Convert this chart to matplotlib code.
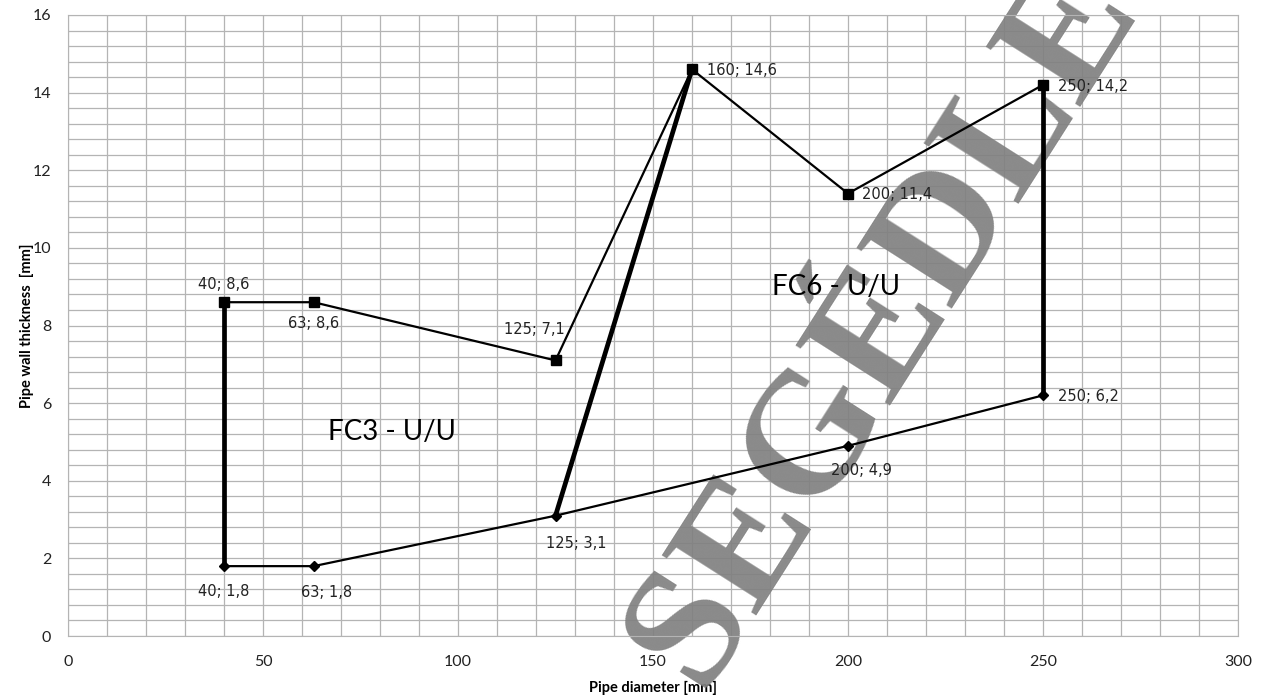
import numpy as np
import matplotlib
matplotlib.use("Agg")
from matplotlib import pyplot as plt
from matplotlib.ticker import MultipleLocator

# upper boundary (square markers)
upper_x = [40, 63, 125, 160, 200, 250]
upper_y = [8.6, 8.6, 7.1, 14.6, 11.4, 14.2]
# lower boundary (diamond markers)
lower_x = [40, 63, 125, 200, 250]
lower_y = [1.8, 1.8, 3.1, 4.9, 6.2]
# thick separators between the zones
sep_x = [[40, 40], [125, 160], [250, 250]]
sep_y = [[1.8, 8.6], [3.1, 14.6], [6.2, 14.2]]

upper_labels = ["40; 8,6", "63; 8,6", "125; 7,1", "160; 14,6", "200; 11,4", "250; 14,2"]
lower_labels = ["40; 1,8", "63; 1,8", "125; 3,1", "200; 4,9", "250; 6,2"]
zone_names = ["FC3 - U/U", "FC6 - U/U"]
zone_x = [83, 197]
zone_y = [5.26, 9.0]

# label offsets in points and alignment
upper_off = [((0, 13), "center"), ((0, -15), "center"), ((7, 22), "right"),
             ((11, -1), "left"), ((10, -1), "left"), ((11, -1), "left")]
lower_off = [((0, -18), "center"), ((9, -19), "center"), ((15, -20), "center"),
             ((10, -18), "center"), ((11, -1), "left")]

fig = plt.figure(figsize=(12.63, 7), dpi=100)
ax = fig.add_axes([68 / 1263, 64 / 700, 1170 / 1263, 621 / 700])

ax.set_xlim(0, 300)
ax.set_ylim(0, 16)
ax.xaxis.set_major_locator(MultipleLocator(50))
ax.xaxis.set_minor_locator(MultipleLocator(10))
ax.yaxis.set_major_locator(MultipleLocator(2))
ax.yaxis.set_minor_locator(MultipleLocator(0.4))
ax.grid(which="both", color="#b4b4b4", linewidth=0.9)
ax.set_axisbelow(True)
for s in ax.spines.values():
    s.set_color("#b4b4b4")
ax.tick_params(which="both", length=0)
ax.tick_params(axis="x", pad=14)
ax.tick_params(axis="y", pad=12)
for t in ax.get_xticklabels() + ax.get_yticklabels():
    t.set_fontfamily("Lato")
    t.set_fontsize(11.5)
    t.set_color("#222222")

ax.set_xlabel("Pipe diameter [mm]", family="Lato", weight="bold", fontsize=10.5, labelpad=8)
ax.set_ylabel("Pipe wall thickness  [mm]", family="Lato", weight="bold", fontsize=10.5, labelpad=-1)

# watermark
ax.text(700 / 1263, 1 - 690 / 700, "SEGÉDLET", transform=fig.transFigure,
        family="Liberation Serif", weight="bold", fontsize=124, color="#808080",
        alpha=0.92, rotation=57.5, rotation_mode="anchor", ha="left", va="baseline",
        clip_on=False, zorder=1.5)

for xs, ys in zip(sep_x, sep_y):
    ax.plot(xs, ys, color="black", linewidth=3.4, zorder=2, solid_capstyle="butt")
ax.plot(upper_x, upper_y, color="black", linewidth=1.6, marker="s", markersize=7.5, zorder=3)
ax.plot(lower_x, lower_y, color="black", linewidth=1.6, marker="D", markersize=5, zorder=3)

for x, y, lab, (off, ha) in zip(upper_x, upper_y, upper_labels, upper_off):
    ax.annotate(lab, (x, y), xytext=off, textcoords="offset points", ha=ha, va="center",
                family="DejaVu Sans", fontsize=10.5, color="#222222", zorder=4)
for x, y, lab, (off, ha) in zip(lower_x, lower_y, lower_labels, lower_off):
    ax.annotate(lab, (x, y), xytext=off, textcoords="offset points", ha=ha, va="center",
                family="DejaVu Sans", fontsize=10.5, color="#222222", zorder=4)

for x, y, name in zip(zone_x, zone_y, zone_names):
    ax.text(x, y, name, family="Lato", fontsize=20, ha="center", va="center", zorder=4)

fig.savefig("out.png", dpi=100)
